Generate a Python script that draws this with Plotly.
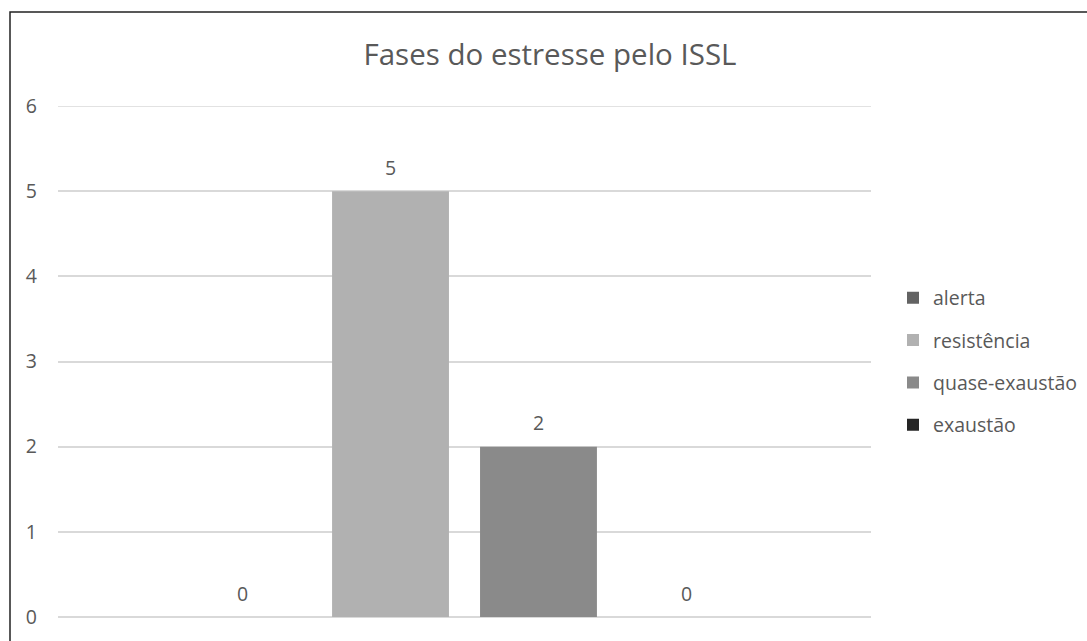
import plotly.graph_objects as go

# Stress phases (ISSL) – number of people in each phase
fases = ["alerta", "resistência", "quase-exaustão", "exaustão"]
valores = [0, 5, 2, 0]
cores = ["#636363", "#b1b1b1", "#8a8a8a", "#252525"]
categoria = [""]
y_ticks = [0, 1, 2, 3, 4, 5, 6]

TEXT = "#595959"
FONT = "Open Sans"
BARGAP = 0.272
GROUPGAP = 0.21

fig = go.Figure()
for i, (nome, v, c) in enumerate(zip(fases, valores, cores)):
    fig.add_trace(go.Bar(
        x=categoria, y=[v], name=nome,
        marker=dict(color=c, line=dict(width=0)),
        legendgroup=f"g{i}",
    ))

# value labels centred above each bar of the group
n = len(fases)
slot = (1 - BARGAP) / n
for i, v in enumerate(valores):
    xc = -0.5 + BARGAP / 2 + slot * (i + 0.5)
    fig.add_annotation(x=xc, y=v, xref="x", yref="y", text=str(v),
                       showarrow=False, yshift=24, yanchor="middle",
                       font=dict(family=FONT, size=19.5, color=TEXT))

W, H = 1087, 641
L, R, T, B = 58, 216, 106, 24
pw = W - L - R
ph = H - T - B

def px_x(p):
    return (p - L) / pw

# top gridline at the last tick, drawn across the plot width
fig.add_shape(type="line", xref="paper", yref="y", x0=0, x1=1,
              y0=y_ticks[-1], y1=y_ticks[-1],
              line=dict(color="#d9d9d9", width=1.5), layer="below")

fig.update_layout(
    width=W, height=H,
    margin=dict(l=L, r=R, t=T, b=B, autoexpand=False),
    paper_bgcolor="white", plot_bgcolor="white",
    barmode="group", bargap=BARGAP, bargroupgap=GROUPGAP,
    title=dict(text="Fases do estresse pelo ISSL", x=550 / W, xref="container",
               xanchor="center", y=1 - 55 / H, yref="container", yanchor="middle",
               font=dict(family=FONT, size=29.5, color=TEXT)),
    showlegend=True,
    legend=dict(x=px_x(893), xanchor="left", y=0.5, yanchor="middle",
                traceorder="grouped", tracegroupgap=14, itemwidth=30,
                font=dict(family=FONT, size=19.5, color=TEXT),
                bgcolor="rgba(0,0,0,0)"),
    xaxis=dict(showticklabels=False, showgrid=False, zeroline=False,
               showline=False, ticks="", range=[-0.5, 0.5]),
    yaxis=dict(range=[0, 6], tickvals=y_ticks,
               showgrid=True, gridcolor="#d9d9d9",
               gridwidth=1.5, zeroline=True, zerolinecolor="#d9d9d9",
               zerolinewidth=1.5, showline=False, ticks="",
               ticklabelstandoff=20,
               tickfont=dict(family=FONT, size=19.5, color=TEXT)),
    shapes=list(fig.layout.shapes) + [dict(
        type="rect", xref="paper", yref="paper",
        x0=px_x(10), x1=px_x(1200), y0=-0.2, y1=1 + (T - 12) / ph,
        line=dict(color="#222222", width=1.5), fillcolor="rgba(0,0,0,0)",
        layer="below")],
)

fig.write_html("out.html")
